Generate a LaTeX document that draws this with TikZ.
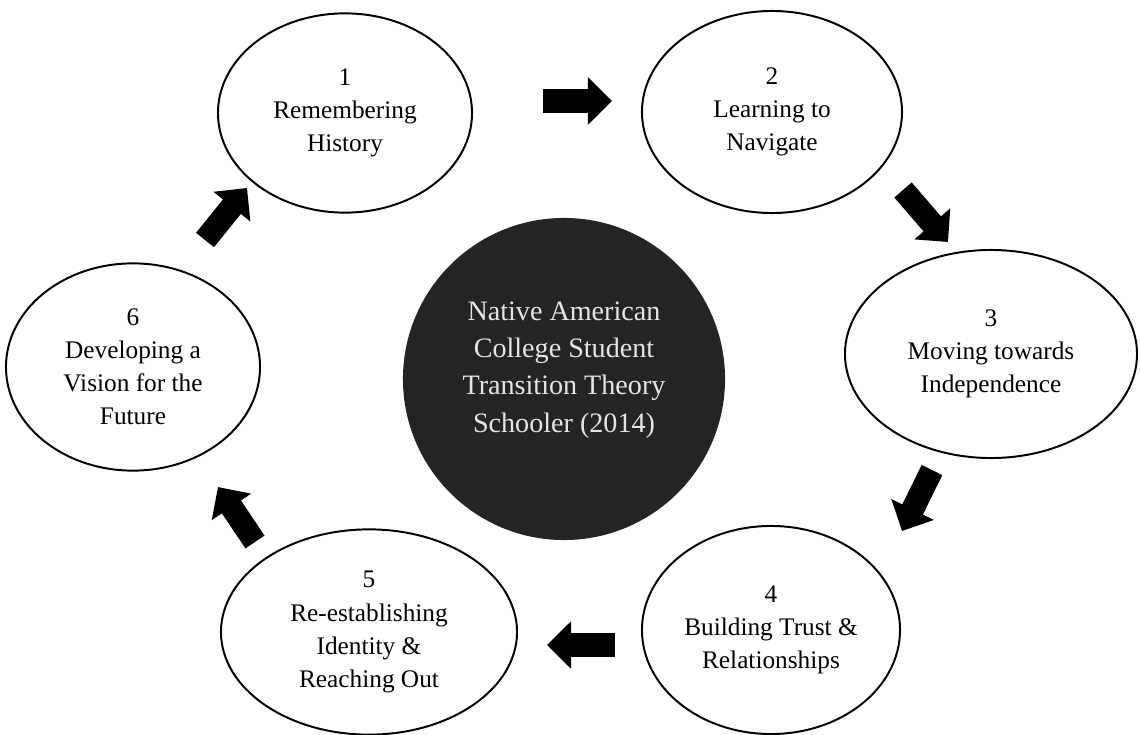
\documentclass[tikz,border=0pt]{standalone}
\usepackage{fontspec}
\setmainfont{Liberation Serif}
\usetikzlibrary{arrows.meta,shapes.geometric}

\tikzset{
  stage/.style={draw, ellipse, line width=1.4pt, inner sep=0pt, align=center, font=\fontsize{18}{23.5}\selectfont},
  hub/.style={circle, fill=black!86, text=white!90!black, inner sep=0pt, minimum size=8.05cm, align=center, text depth=17pt, font=\fontsize{20}{26.5}\selectfont},
  blockarrow/.style={line width=0.575cm, -{Triangle[width=1.15cm, length=0.6cm]}},
}

\begin{document}
\begin{tikzpicture}[x=0.025cm, y=-0.025cm]
\useasboundingbox (0,0) rectangle (1140,735);

% theory in the middle
\node[hub] (theory) at (564,379) {Native American\\College Student\\Transition Theory\\Schooler (2014)};

% the six stages
\node[stage, minimum width=6.35cm, minimum height=4.98cm] (s1) at (345,113) {1\\Remembering\\History};
\node[stage, minimum width=6.5cm, minimum height=5.05cm] (s2) at (772,112) {2\\Learning to\\Navigate};
\node[stage, minimum width=7.3cm, minimum height=5.2cm] (s3) at (991,354) {3\\Moving towards\\Independence};
\node[stage, minimum width=6.45cm, minimum height=5.2cm] (s4) at (771,630) {4\\Building Trust \&\\Relationships};
\node[stage, minimum width=7.4cm, minimum height=5.13cm] (s5) at (369,632) {5\\Re-establishing\\Identity \&\\Reaching Out};
\node[stage, minimum width=6.35cm, minimum height=5.18cm] (s6) at (133,367) {6\\Developing a\\Vision for the\\Future};

% arrow ends between the stages
\coordinate (a1) at (543,101);  \coordinate (b1) at (612,101);
\coordinate (a2) at (903,190);  \coordinate (b2) at (948,242);
\coordinate (a3) at (932,470);  \coordinate (b3) at (902,531);
\coordinate (a4) at (615,645);  \coordinate (b4) at (547,645);
\coordinate (a5) at (255,542);  \coordinate (b5) at (218,487);
\coordinate (a6) at (205,240);  \coordinate (b6) at (247,188);

\foreach \i in {1,...,6}
  \draw[blockarrow] (a\i) -- (b\i);
\end{tikzpicture}
\end{document}
